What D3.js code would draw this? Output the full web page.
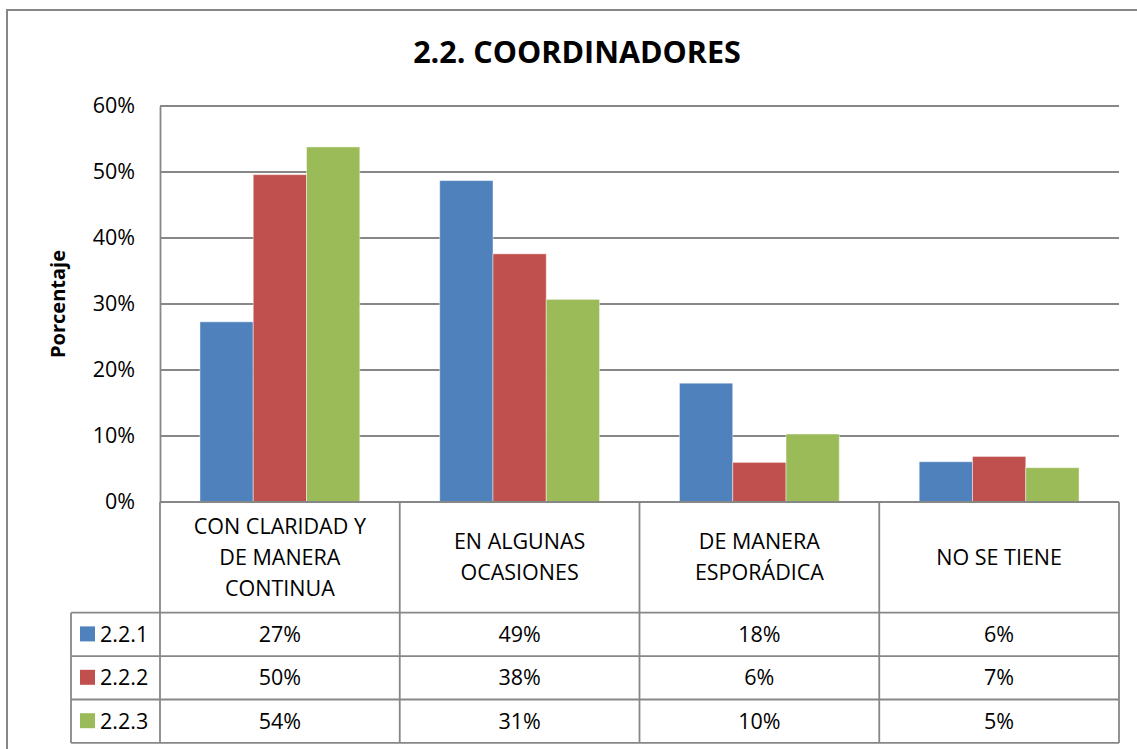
<!DOCTYPE html>
<html>
<head>
<meta charset="utf-8">
<script src="https://cdn.jsdelivr.net/npm/d3@7"></script>
<style>
  html, body { margin: 0; padding: 0; background: #fff; }
  svg { display: block; font-family: "Open Sans", "Noto Sans", sans-serif; }
</style>
</head>
<body>
<svg id="chart" width="1137" height="749"></svg>
<script>
// ---- data ----
const title = "2.2. COORDINADORES";
const yTitle = "Porcentaje";
const categories = ["CON CLARIDAD Y DE MANERA CONTINUA", "EN ALGUNAS OCASIONES", "DE MANERA ESPORÁDICA", "NO SE TIENE"];
const categoryLines = [["CON CLARIDAD Y", "DE MANERA", "CONTINUA"], ["EN ALGUNAS", "OCASIONES"], ["DE MANERA", "ESPORÁDICA"], ["NO SE TIENE"]];
const seriesNames = ["2.2.1", "2.2.2", "2.2.3"];
const series1 = [0.273, 0.487, 0.180, 0.061];
const series2 = [0.496, 0.376, 0.060, 0.069];
const series3 = [0.538, 0.307, 0.103, 0.052];
const yTicks = [0, 0.1, 0.2, 0.3, 0.4, 0.5, 0.6];
const colors = ["#4F81BD", "#C0504D", "#9BBB59"];

const seriesValues = [series1, series2, series3];

// ---- layout ----
const svg = d3.select("#chart");
const plot = { left: 160, right: 1119, top: 106, bottom: 502 };
const table = { legendLeft: 71, headerBottom: 612.7, rowH: 43.4 };
const lineColor = "#878787";
const fs = 21.5;

// outer chart border (top and left only visible)
svg.append("path")
  .attr("d", "M7,760 L7,10 L1150,10")
  .attr("fill", "none").attr("stroke", lineColor).attr("stroke-width", 2);

// title
svg.append("text")
  .attr("x", 577).attr("y", 63)
  .attr("text-anchor", "middle")
  .attr("font-weight", "bold").attr("font-size", 30.5)
  .attr("fill", "#000")
  .text(title);

const x0 = d3.scaleBand().domain(categories).range([plot.left, plot.right]).paddingInner(0).paddingOuter(0);
const x1 = d3.scaleBand().domain(seriesNames).range([0, x0.bandwidth()]).paddingInner(0).paddingOuter(0.75);
const y = d3.scaleLinear().domain([0, 0.6]).range([plot.bottom, plot.top]);

// gridlines
svg.append("g")
  .selectAll("line").data(yTicks.filter(d => d > 0)).join("line")
  .attr("x1", plot.left).attr("x2", plot.right)
  .attr("y1", d => y(d)).attr("y2", d => y(d))
  .attr("stroke", lineColor).attr("stroke-width", 1.8);

// y axis
const yAxis = svg.append("g")
  .attr("transform", `translate(${plot.left},0)`)
  .call(d3.axisLeft(y).tickValues(yTicks).tickFormat(d3.format(".0%")).tickSize(0).tickPadding(25));
yAxis.select(".domain").attr("stroke", lineColor).attr("stroke-width", 1.8);
yAxis.selectAll("text").attr("font-size", fs).attr("fill", "#000")
  .attr("font-family", "'Open Sans', sans-serif");

// y title
svg.append("text")
  .attr("transform", `translate(65,${(plot.top + plot.bottom) / 2}) rotate(-90)`)
  .attr("text-anchor", "middle")
  .attr("font-weight", "bold").attr("font-size", 20)
  .text(yTitle);

// bars
const groups = svg.append("g").selectAll("g").data(categories).join("g")
  .attr("transform", d => `translate(${x0(d)},0)`);
groups.selectAll("rect")
  .data((c, i) => seriesNames.map((s, j) => ({ s, v: seriesValues[j][i], j })))
  .join("rect")
  .attr("x", d => x1(d.s))
  .attr("width", x1.bandwidth())
  .attr("y", d => y(d.v))
  .attr("height", d => y(0) - y(d.v))
  .attr("fill", d => colors[d.j])
  .attr("stroke", "rgba(255,255,255,0.45)")
  .attr("stroke-width", 1);

// ---- data table ----
const tg = svg.append("g");
const tableBottom = table.headerBottom + table.rowH * seriesNames.length;
// x axis / table top line
tg.append("line").attr("x1", plot.left).attr("x2", plot.right)
  .attr("y1", plot.bottom).attr("y2", plot.bottom)
  .attr("stroke", lineColor).attr("stroke-width", 1.8);
// vertical lines
const vx = categories.map(c => x0(c)).concat([plot.right]);
tg.selectAll("line.v").data(vx).join("line").attr("class", "v")
  .attr("x1", d => d).attr("x2", d => d)
  .attr("y1", plot.bottom).attr("y2", tableBottom)
  .attr("stroke", lineColor).attr("stroke-width", 1.8);
// legend column left line
tg.append("line").attr("x1", table.legendLeft).attr("x2", table.legendLeft)
  .attr("y1", table.headerBottom).attr("y2", tableBottom)
  .attr("stroke", lineColor).attr("stroke-width", 1.8);
// horizontal row lines
const rowLines = d3.range(seriesNames.length + 1).map(i => table.headerBottom + i * table.rowH);
tg.selectAll("line.h").data(rowLines).join("line").attr("class", "h")
  .attr("x1", table.legendLeft).attr("x2", plot.right)
  .attr("y1", d => d).attr("y2", d => d)
  .attr("stroke", lineColor).attr("stroke-width", 1.8);

// category header labels
const headerMid = (plot.bottom + table.headerBottom) / 2;
const lh = 31;
tg.selectAll("text.cat").data(categories).join("text").attr("class", "cat")
  .attr("text-anchor", "middle")
  .attr("font-size", fs)
  .attr("x", d => x0(d) + x0.bandwidth() / 2)
  .each(function (d, i) {
    const lines = categoryLines[i];
    const t = d3.select(this);
    lines.forEach((ln, k) => {
      t.append("tspan")
        .attr("x", x0(d) + x0.bandwidth() / 2)
        .attr("y", headerMid + (k - (lines.length - 1) / 2) * lh)
        .attr("dy", "0.35em")
        .text(ln);
    });
  });

// rows: legend + values
const fmt = d3.format(".0%");
seriesNames.forEach((s, j) => {
  const cy = table.headerBottom + (j + 0.5) * table.rowH;
  tg.append("rect").attr("x", 80).attr("y", cy - 8).attr("width", 15).attr("height", 15)
    .attr("fill", colors[j]);
  tg.append("text").attr("x", 100).attr("y", cy).attr("dy", "0.35em")
    .attr("font-size", fs).text(s);
  tg.selectAll(null).data(categories).join("text")
    .attr("x", d => x0(d) + x0.bandwidth() / 2)
    .attr("y", cy).attr("dy", "0.35em")
    .attr("text-anchor", "middle")
    .attr("font-size", fs)
    .text((d, i) => fmt(seriesValues[j][i]));
});
</script>
</body>
</html>
